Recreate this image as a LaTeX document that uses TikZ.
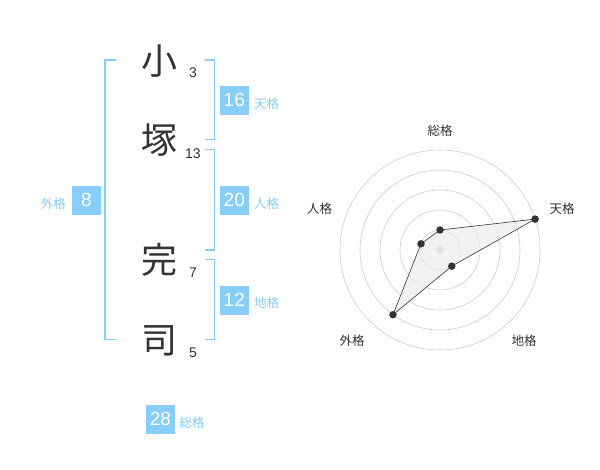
\documentclass[tikz,border=0pt]{standalone}
\usepackage{fontspec}
\setmainfont{Liberation Sans}
\newfontfamily\cjk{Noto Sans CJK JP}
\definecolor{skyb}{HTML}{87CEFA}
\definecolor{ink}{HTML}{333333}
\definecolor{gridc}{HTML}{CCCCCC}
\tikzset{
  kanji/.style={font=\cjk\fontsize{36}{36}\selectfont, text=ink, inner sep=0pt},
  strokes/.style={font=\fontsize{14}{14}\selectfont, text=ink, inner sep=0pt},
  valbox/.style={fill=skyb, text=white, minimum width=28.7pt, minimum height=28.7pt, inner sep=0pt, font=\fontsize{19}{19}\selectfont},
  kaku/.style={font=\cjk\fontsize{12.5}{12.5}\selectfont, text=skyb, inner sep=0pt},
  brk/.style={draw=skyb, line width=1.6pt},
  ring/.style={draw=gridc, line width=0.6pt},
  axlab/.style={font=\cjk\fontsize{12.5}{12.5}\selectfont, text=ink, inner sep=0pt},
  pt/.style={circle, fill=ink, inner sep=0pt, minimum size=7.5pt},
}
\begin{document}
\begin{tikzpicture}[x=1pt,y=-1pt]
\useasboundingbox (0,0) rectangle (600,470);
% name characters
\node[kanji] (c1) at (159.5,61) {小};
\node[kanji] (c2) at (159.5,140) {塚};
\node[kanji] (c3) at (159.5,260) {完};
\node[kanji] (c4) at (159.5,341) {司};
\node[strokes] (s1) at (193,72.7) {3};
\node[strokes] (s2) at (193,153.3) {13};
\node[strokes] (s3) at (193,272.7) {7};
\node[strokes] (s4) at (193,352.7) {5};
% brackets
\draw[brk] (116,60) -- (105,60) -- (105,339.5) -- (116,339.5);
\draw[brk] (205,60) -- (214.5,60) -- (214.5,139.5) -- (205,139.5);
\draw[brk] (205,149.5) -- (214.5,149.5) -- (214.5,250) -- (205,250);
\draw[brk] (205,259.5) -- (214.5,259.5) -- (214.5,339.5) -- (205,339.5);
% value boxes
\node[valbox] (ten) at (234.3,100.3) {16};
\node[kaku, anchor=west] (tenl) at (254,103.5) {天格};
\node[valbox] (jin) at (234.3,200.3) {20};
\node[kaku, anchor=west] (jinl) at (254,203.5) {人格};
\node[valbox] (chi) at (234.3,300.3) {12};
\node[kaku, anchor=west] (chil) at (254,303) {地格};
\node[valbox] (gai) at (86.3,200.3) {8};
\node[kaku, anchor=east] (gail) at (66,203.5) {外格};
\node[valbox] (sou) at (160.5,419.2) {28};
\node[kaku, anchor=west] (soul) at (179.5,422.5) {総格};
% radar chart
\coordinate (o) at (440,250);
\foreach \r in {20,40,60,80,100} \draw[ring] (o) circle[radius=\r];
\fill[gridc] (o) circle[radius=4];
\coordinate (p1) at (440,230);
\coordinate (p2) at (535.1,219.1);
\coordinate (p3) at (451.8,266.2);
\coordinate (p4) at (393,314.7);
\coordinate (p5) at (421,243.8);
\filldraw[fill=gray!15, fill opacity=0.7, draw=ink, line width=0.6pt] (p1) -- (p2) -- (p3) -- (p4) -- (p5) -- cycle;
\foreach \p in {p1,p2,p3,p4,p5} \node[pt] at (\p) {};
\node[axlab] (a1) at (440,130.5) {総格};
\node[axlab] (a2) at (562,208.5) {天格};
\node[axlab] (a3) at (524,341) {地格};
\node[axlab] (a4) at (352,341) {外格};
\node[axlab] (a5) at (319.5,208.5) {人格};
\end{tikzpicture}
\end{document}
